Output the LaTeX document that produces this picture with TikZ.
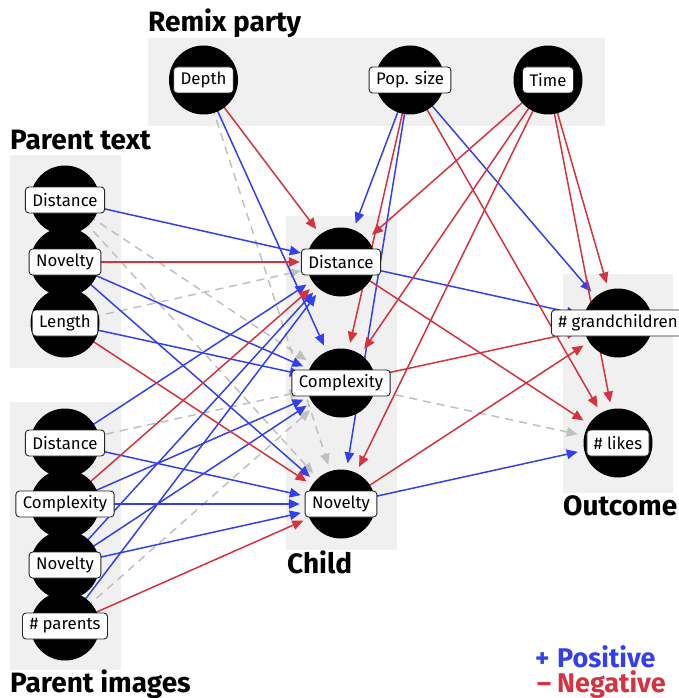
\documentclass[tikz,border=0pt]{standalone}
\usepackage{fontspec}
\setmainfont{Fira Sans}
\usetikzlibrary{arrows.meta}
\definecolor{posc}{RGB}{52,64,238}
\definecolor{negc}{RGB}{214,50,64}
\definecolor{nonc}{RGB}{192,192,192}
\definecolor{grpc}{RGB}{240,240,240}
\pgfdeclarelayer{grplayer}
\pgfdeclarelayer{edglayer}
\pgfsetlayers{grplayer,edglayer,main}
\begin{document}
\begin{tikzpicture}[x=1pt,y=-1pt,
  var/.style={circle,fill=black,minimum size=69pt,inner sep=0pt},
  lab/.style={draw=black!85,fill=white,rounded corners=3.5pt,line width=0.9pt,inner xsep=7pt,inner ysep=0pt,minimum height=26pt,font=\fontsize{16.8}{19}\selectfont},
  grpbox/.style={fill=grpc,draw=none},
  ttl/.style={anchor=base west,inner sep=0pt,font=\fontsize{28}{32}\selectfont\bfseries},
  edgebase/.style={line width=1.5pt,shorten >=6.5pt,-{Triangle[length=11pt,width=9.5pt]}},
  posedge/.style={edgebase,draw=posc},
  negedge/.style={edgebase,draw=negc},
  nonedge/.style={edgebase,draw=nonc,dash pattern=on 8pt off 6pt}]
\useasboundingbox (0,0) rectangle (679,698);
% group boxes
\begin{pgfonlayer}{grplayer}
\path[grpbox] (148,38) rectangle (605,126);
\path[grpbox] (10,155) rectangle (121,368);
\path[grpbox] (286,216) rectangle (397,550);
\path[grpbox] (10,402) rectangle (121,670);
\path[grpbox] (563,274) rectangle (673,493);
\end{pgfonlayer}
% titles
\node[ttl] (tRemix) at (148,32) {Remix party};
\node[ttl] (tPtext) at (10,149) {Parent text};
\node[ttl] (tChild) at (287,573) {Child};
\node[ttl] (tOut) at (563,515) {Outcome};
\node[ttl] (tPimg) at (10,692) {Parent images};
% variables
\node[var] (vD) at (203.5,80) {};
\node[var] (vP) at (410,80) {};
\node[var] (vT) at (548,80) {};
\node[var] (tD) at (65,200) {};
\node[var] (tN) at (65,262) {};
\node[var] (tL) at (65,323) {};
\node[var] (cD) at (341,262) {};
\node[var] (cC) at (341,383) {};
\node[var] (cN) at (341,504) {};
\node[var] (iD) at (65,443) {};
\node[var] (iC) at (65,504) {};
\node[var] (iN) at (65,565) {};
\node[var] (iP) at (65,626) {};
\node[var] (oG) at (618,323) {};
\node[var] (oL) at (618,443) {};
% labels
\node[lab] (lD) at (vD) {Depth};
\node[lab] (lP) at (vP) {Pop. size};
\node[lab] (lT) at (vT) {Time};
\node[lab] (ltD) at (tD) {Distance};
\node[lab] (ltN) at (tN) {Novelty};
\node[lab] (ltL) at (tL) {Length};
\node[lab] (lcD) at (cD) {Distance};
\node[lab] (lcC) at (cC) {Complexity};
\node[lab] (lcN) at (cN) {Novelty};
\node[lab] (liD) at (iD) {Distance};
\node[lab] (liC) at (iC) {Complexity};
\node[lab] (liN) at (iN) {Novelty};
\node[lab] (liP) at (iP) {\# parents};
\node[lab] (loG) at (oG) {\# grandchildren};
\node[lab] (loL) at (oL) {\# likes};
% edges
\begin{pgfonlayer}{edglayer}
\draw[nonedge] (vD.center) -- (cN);
\draw[nonedge] (tD.center) -- (cC);
\draw[nonedge] (tD.center) -- (cN);
\draw[nonedge] (tL.center) -- (cD);
\draw[nonedge] (iD.center) -- (cC);
\draw[nonedge] (iP.center) -- (cC);
\draw[nonedge] (cC.center) -- (oL);
\draw[posedge] (vD.center) -- (cC);
\draw[posedge] (vP.center) -- (cD);
\draw[posedge] (vP.center) -- (cN);
\draw[posedge] (vP.center) -- (oG);
\draw[posedge] (tD.center) -- (cD);
\draw[posedge] (tN.center) -- (cC);
\draw[posedge] (tN.center) -- (cN);
\draw[posedge] (tL.center) -- (cC);
\draw[posedge] (iD.center) -- (cD);
\draw[posedge] (iD.center) -- (cN);
\draw[posedge] (iC.center) -- (cC);
\draw[posedge] (iC.center) -- (cN);
\draw[posedge] (iN.center) -- (cD);
\draw[posedge] (iN.center) -- (cC);
\draw[posedge] (iN.center) -- (cN);
\draw[posedge] (iP.center) -- (cD);
\draw[posedge] (cD.center) -- (oG);
\draw[posedge] (cN.center) -- (oL);
\draw[negedge] (vD.center) -- (cD);
\draw[negedge] (vP.center) -- (cC);
\draw[negedge] (vP.center) -- (oL);
\draw[negedge] (vT.center) -- (cD);
\draw[negedge] (vT.center) -- (cC);
\draw[negedge] (vT.center) -- (cN);
\draw[negedge] (vT.center) -- (oG);
\draw[negedge] (vT.center) -- (oL);
\draw[negedge] (tN.center) -- (cD);
\draw[negedge] (tL.center) -- (cN);
\draw[negedge] (iC.center) -- (cD);
\draw[negedge] (iP.center) -- (cN);
\draw[negedge] (cD.center) -- (oL);
\draw[negedge] (cC.center) -- (oG);
\draw[negedge] (cN.center) -- (oG);
\end{pgfonlayer}
% legend
\node[anchor=base west,inner sep=0pt,align=left,font=\fontsize{27}{25}\selectfont\bfseries] (legend) at (535,692)
  {\textcolor{posc}{\makebox[22pt][l]{+}Positive}\\\textcolor{negc}{\makebox[22pt][r]{–\hspace{6pt}}Negative}};
\end{tikzpicture}
\end{document}
